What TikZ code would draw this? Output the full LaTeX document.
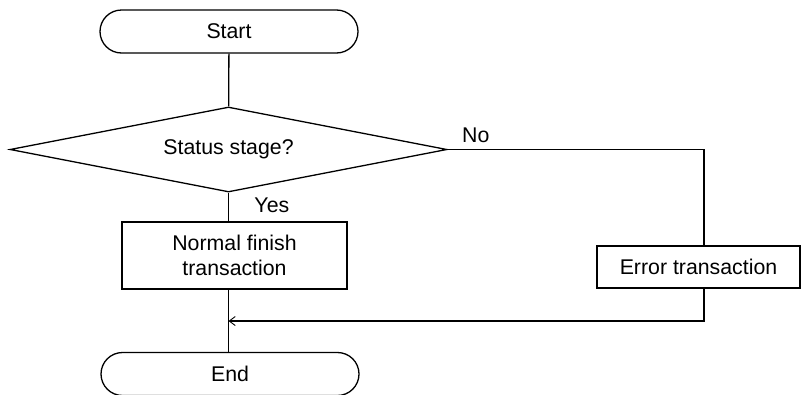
\documentclass[tikz,border=0pt]{standalone}
\usepackage{fontspec}
\setmainfont{Liberation Sans}
\usetikzlibrary{arrows.meta,positioning,shapes.geometric,shapes.misc}

\begin{document}
\begin{tikzpicture}[
  x=1pt, y=-1pt, line width=1.3pt,
  font=\fontsize{21.3}{25}\selectfont,
  term/.style={draw, rounded rectangle, minimum width=258pt, minimum height=43pt, inner sep=0pt},
  dec/.style={draw, diamond, aspect=5.14, minimum width=437pt, minimum height=85pt, inner sep=0pt},
  blk/.style={draw, align=center, minimum height=67pt, minimum width=225pt, inner sep=0pt},
  flow/.style={-{Straight Barb[length=6pt,width=9pt,line width=0.9pt]}}
]
  \useasboundingbox (0,0) rectangle (808,394);
  \node[term] (start) at (229,31.5) {Start};
  \node[dec] (stat) at (228.5,149.5) {Status stage?};
  \node[blk] (norm) at (234.5,255.5) {Normal finish\\transaction};
  \node[blk, minimum width=203pt, minimum height=42pt] (err) at (698.5,267) {Error transaction};
  \node[term] (end) at (230,374) {End};
  \coordinate (cr) at (704,149.5);
  \coordinate (cj) at (704,321);
  \draw (start) -- (stat);
  \draw (stat.south) -- node[pos=0.45,right,xshift=22pt] {Yes} (stat.south |- norm.north);
  \draw (stat.east) -- node[pos=0.11,above,yshift=3pt] {No} (cr) -- (cr |- err.north);
  \draw (stat.south |- norm.south) -- (stat.south |- end.north);
  \draw[flow] (cr |- err.south) -- (cj) -- (cj -| stat.south);
\end{tikzpicture}
\end{document}
